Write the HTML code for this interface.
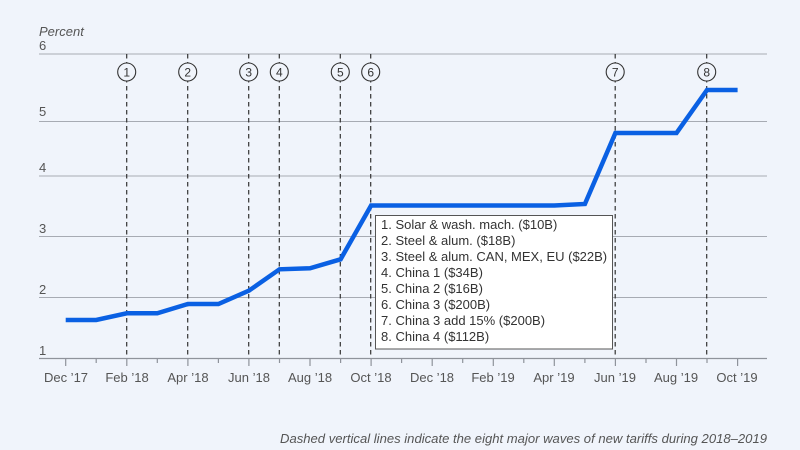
<!DOCTYPE html>
<html><head><meta charset="utf-8"><style>
html,body{margin:0;padding:0;background:#f0f4fb;}
svg{display:block;}
text{font-family:"Liberation Sans",sans-serif;}
</style></head><body>
<svg width="800" height="450" viewBox="0 0 800 450" xmlns="http://www.w3.org/2000/svg">
<rect width="800" height="450" fill="#f0f4fb"/>
<text x="39" y="36" font-size="13" font-style="italic" fill="#555">Percent</text>
<g stroke="#a7abb3" stroke-width="1">
<line x1="39" y1="54" x2="767" y2="54"/>
<line x1="39" y1="121.5" x2="767" y2="121.5"/>
<line x1="39" y1="176" x2="767" y2="176"/>
<line x1="39" y1="236.5" x2="767" y2="236.5"/>
<line x1="39" y1="297.5" x2="767" y2="297.5"/>
</g>
<line x1="39" y1="358.5" x2="767" y2="358.5" stroke="#8f939b" stroke-width="1.2"/>
<g font-size="13" fill="#555">
<text x="39" y="50">6</text>
<text x="39" y="116">5</text>
<text x="39" y="172">4</text>
<text x="39" y="233">3</text>
<text x="39" y="294">2</text>
<text x="39" y="355">1</text>
</g>
<g stroke="#8f939b" stroke-width="1.2">
<line x1="65.7" y1="358" x2="65.7" y2="366"/>
<line x1="96.2" y1="358" x2="96.2" y2="363"/>
<line x1="126.8" y1="358" x2="126.8" y2="366"/>
<line x1="157.3" y1="358" x2="157.3" y2="363"/>
<line x1="187.9" y1="358" x2="187.9" y2="366"/>
<line x1="218.4" y1="358" x2="218.4" y2="363"/>
<line x1="248.9" y1="358" x2="248.9" y2="366"/>
<line x1="279.5" y1="358" x2="279.5" y2="363"/>
<line x1="310.0" y1="358" x2="310.0" y2="366"/>
<line x1="340.6" y1="358" x2="340.6" y2="363"/>
<line x1="371.1" y1="358" x2="371.1" y2="366"/>
<line x1="401.6" y1="358" x2="401.6" y2="363"/>
<line x1="432.2" y1="358" x2="432.2" y2="366"/>
<line x1="462.7" y1="358" x2="462.7" y2="363"/>
<line x1="493.3" y1="358" x2="493.3" y2="366"/>
<line x1="523.8" y1="358" x2="523.8" y2="363"/>
<line x1="554.3" y1="358" x2="554.3" y2="366"/>
<line x1="584.9" y1="358" x2="584.9" y2="363"/>
<line x1="615.4" y1="358" x2="615.4" y2="366"/>
<line x1="646.0" y1="358" x2="646.0" y2="363"/>
<line x1="676.5" y1="358" x2="676.5" y2="366"/>
<line x1="707.0" y1="358" x2="707.0" y2="363"/>
<line x1="737.6" y1="358" x2="737.6" y2="366"/>
</g>
<g font-size="13" fill="#555" text-anchor="middle">
<text x="66" y="382">Dec ’17</text>
<text x="127" y="382">Feb ’18</text>
<text x="188" y="382">Apr ’18</text>
<text x="249" y="382">Jun ’18</text>
<text x="310" y="382">Aug ’18</text>
<text x="371" y="382">Oct ’18</text>
<text x="432" y="382">Dec ’18</text>
<text x="493" y="382">Feb ’19</text>
<text x="554" y="382">Apr ’19</text>
<text x="615" y="382">Jun ’19</text>
<text x="676" y="382">Aug ’19</text>
<text x="737" y="382">Oct ’19</text>
</g>
<g stroke="#333" stroke-width="1.2" stroke-dasharray="4.5,3.5">
<line x1="126.7" y1="54" x2="126.7" y2="358"/>
<line x1="187.7" y1="54" x2="187.7" y2="358"/>
<line x1="248.7" y1="54" x2="248.7" y2="358"/>
<line x1="279.3" y1="54" x2="279.3" y2="358"/>
<line x1="340.3" y1="54" x2="340.3" y2="358"/>
<line x1="370.7" y1="54" x2="370.7" y2="358"/>
<line x1="615.2" y1="54" x2="615.2" y2="358"/>
<line x1="706.7" y1="54" x2="706.7" y2="358"/>
</g>
<g fill="#f0f4fb" stroke="#333" stroke-width="1.1">
<circle cx="126.7" cy="72" r="9"/>
<circle cx="187.7" cy="72" r="9"/>
<circle cx="248.7" cy="72" r="9"/>
<circle cx="279.3" cy="72" r="9"/>
<circle cx="340.3" cy="72" r="9"/>
<circle cx="370.7" cy="72" r="9"/>
<circle cx="615.2" cy="72" r="9"/>
<circle cx="706.7" cy="72" r="9"/>
</g>
<g font-size="12" fill="#333" text-anchor="middle">
<text x="126.7" y="76.5">1</text>
<text x="187.7" y="76.5">2</text>
<text x="248.7" y="76.5">3</text>
<text x="279.3" y="76.5">4</text>
<text x="340.3" y="76.5">5</text>
<text x="370.7" y="76.5">6</text>
<text x="615.2" y="76.5">7</text>
<text x="706.7" y="76.5">8</text>
</g>
<polyline fill="none" stroke="#0a60e3" stroke-width="4.5" stroke-linejoin="miter" points="65.7,320 96.2,320 126.8,313.3 157.3,313.3 187.9,304 218.4,304 248.9,290.7 279.5,269.3 310,268.3 340.6,259.3 371.1,205.5 554.3,205.5 584.9,204 615.4,133 646,133 676.5,133 707,90 737.6,90"/>
<rect x="375.5" y="215.5" width="237" height="133.5" fill="#ffffff" stroke="#555" stroke-width="1"/>
<g font-size="13" fill="#333">
<text x="381" y="229">1. Solar &amp; wash. mach. ($10B)</text>
<text x="381" y="245">2. Steel &amp; alum. ($18B)</text>
<text x="381" y="261">3. Steel &amp; alum. CAN, MEX, EU ($22B)</text>
<text x="381" y="277">4. China 1 ($34B)</text>
<text x="381" y="293">5. China 2 ($16B)</text>
<text x="381" y="309">6. China 3 ($200B)</text>
<text x="381" y="325">7. China 3 add 15% ($200B)</text>
<text x="381" y="341">8. China 4 ($112B)</text>
</g>
<text x="767" y="443" font-size="13" font-style="italic" fill="#555" text-anchor="end" textLength="487" lengthAdjust="spacingAndGlyphs">Dashed vertical lines indicate the eight major waves of new tariffs during 2018–2019</text>
</svg>
</body></html>
